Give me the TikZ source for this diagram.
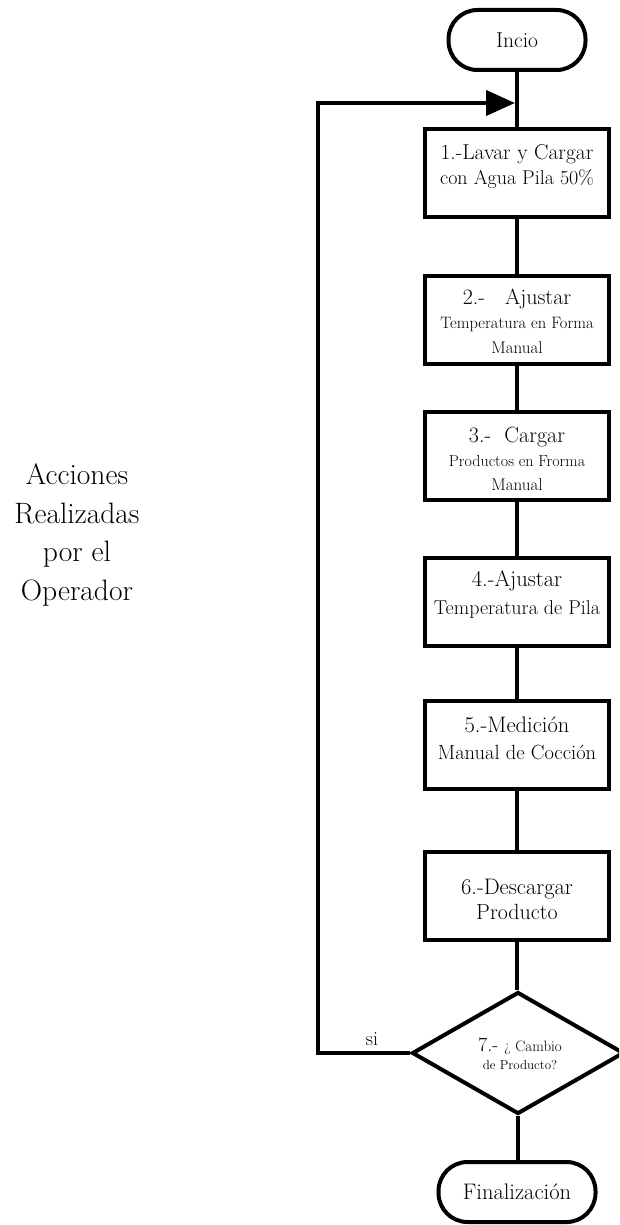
\documentclass[tikz,border=0pt]{standalone}
\usepackage{fontspec}
\usetikzlibrary{arrows.meta,shapes.geometric}
\newcommand{\fs}[2]{\fontsize{#1}{#2}\selectfont}
\begin{document}
\begin{tikzpicture}[x=1pt,y=-1pt,
  lw/.style={line width=4pt},
  stepbox/.style={draw,lw,rectangle,minimum width=184pt,minimum height=88pt,inner sep=0pt},
  term/.style={draw,lw,rectangle,rounded corners=29pt,inner sep=0pt},
  txt/.style={align=center,inner sep=0pt},
  conn/.style={lw},
  back/.style={lw,-{Triangle[length=29pt,width=25pt]}}
]
\useasboundingbox (0,0) rectangle (619,1225);
\clip (0,0) rectangle (619,1225);

\node[term,minimum width=137pt,minimum height=60pt,font=\fs{21.5}{25}] (inicio) at (517,40) {Incio};

\node[stepbox] (b1) at (517,173) {};
\node[txt,font=\fs{21}{25}] (t1) at (517,167) {\fs{21.5}{25}1.-Lavar y Cargar\\\fs{20}{25}con Agua Pila 50\%};

\node[stepbox] (b2) at (517,320) {};
\node[txt,font=\fs{17}{24.5}] (t2) at (517,321) {\fs{22}{24.5}2.-\ \ \ Ajustar\\\fs{16.5}{24.5}Temperatura en Forma\\\fs{17}{24.5}Manual};

\node[stepbox] (b3) at (517,456) {};
\node[txt,font=\fs{17}{24}] (t3) at (517,459) {\fs{22}{24}3.-\ \ Cargar\\\fs{16}{24}Productos en Frorma\\\fs{17}{24}Manual};

\node[stepbox] (b4) at (517,602) {};
\node[txt,font=\fs{20}{28}] (t4) at (517,594) {\fs{22.5}{28}4.-Ajustar\\\fs{20}{28}Temperatura de Pila};

\node[stepbox] (b5) at (517,745) {};
\node[txt,font=\fs{20}{27}] (t5) at (517,738.5) {\fs{22.5}{27}5.-Medición\\\fs{20.5}{27}Manual de Cocción};

\node[stepbox] (b6) at (517,896) {};
\node[txt,font=\fs{22}{25}] (t6) at (517,899.5) {\fs{22.5}{25}6.-Descargar\\\fs{22}{25}Producto};

\node[draw,lw,diamond,minimum width=212pt,minimum height=122pt,inner sep=0pt,aspect=1.74] (dia) at (518,1053) {};
\node[txt,font=\fs{13}{18}] (t7) at (520,1054) {\fs{20}{18}7.-\ \fs{15}{18}¿ Cambio\\\fs{13}{18}de Producto?};

\node[term,minimum width=157pt,minimum height=60pt,font=\fs{22.5}{26}] (fin) at (517,1192) {Finalización};

\node[txt,font=\fs{20}{24}] (si) at (372,1039) {si};

\node[txt,font=\fs{29.5}{38.5}] (acc) at (77,535) {Acciones\\Realizadas\\por el\\Operador};

\coordinate (ret) at (515,103);
\coordinate (cL) at (318,1053);

\draw[conn] (inicio) -- (b1);
\draw[conn] (b1) -- (b2);
\draw[conn] (b2) -- (b3);
\draw[conn] (b3) -- (b4);
\draw[conn] (b4) -- (b5);
\draw[conn] (b5) -- (b6);
\draw[conn] (b6.south) -- (b6.south |- dia.north);
\draw[conn] (dia.south) -- (dia.south |- fin.north);
\draw[back] (dia.west) -- (cL) |- (ret);
\end{tikzpicture}
\end{document}
